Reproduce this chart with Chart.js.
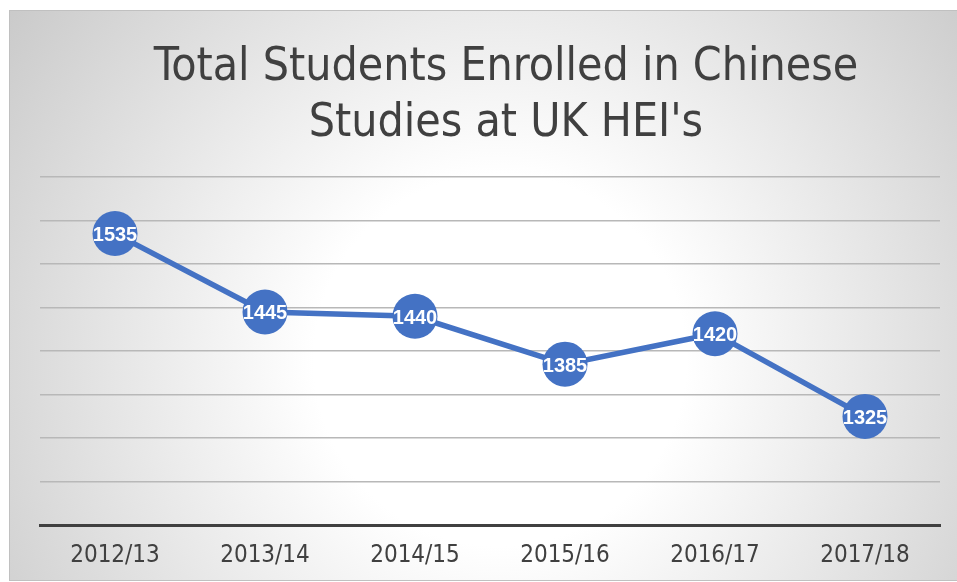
<!DOCTYPE html>
<html>
<head>
<meta charset="utf-8">
<script src="https://cdn.jsdelivr.net/npm/chart.js@4"></script>
<style>
  html, body { margin: 0; padding: 0; background: #fff; }
  #wrap { width: 957px; height: 582px; }
</style>
</head>
<body>
<div id="wrap"><canvas id="enrolChart"></canvas></div>
<script>
var titleLines = ['Total Students Enrolled in Chinese', "Studies at UK HEI's"];
var years = ['2012/13', '2013/14', '2014/15', '2015/16', '2016/17', '2017/18'];
var students = [1535, 1445, 1440, 1385, 1420, 1325];
var yMin = 1200, yMax = 1600, yStep = 50;

var blue = '#4472C4';
var narrow = '"Liberation Sans Narrow", "DejaVu Sans Condensed", sans-serif';

// frame with radial gradient fill
var backgroundPlugin = {
    id: 'background',
    beforeDraw: function (chart) {
        var ctx = chart.ctx;
        ctx.save();
        ctx.fillStyle = '#ffffff';
        ctx.fillRect(0, 0, chart.width, chart.height);
        var g = ctx.createRadialGradient(500, 360, 0, 500, 360, 620);
        g.addColorStop(0, '#ffffff');
        g.addColorStop(0.3, '#ffffff');
        g.addColorStop(1, '#c8c8c8');
        ctx.fillStyle = g;
        ctx.fillRect(10, 11, chart.width - 10, 569);
        ctx.strokeStyle = '#c0c0c0';
        ctx.lineWidth = 1;
        ctx.strokeRect(9.5, 10.5, chart.width, 570);
        ctx.restore();
    }
};

var titlePlugin = {
    id: 'bigTitle',
    afterDraw: function (chart) {
        var ctx = chart.ctx;
        ctx.save();
        ctx.fillStyle = '#404040';
        ctx.font = '46px ' + narrow;
        ctx.textAlign = 'center';
        ctx.textBaseline = 'alphabetic';
        ctx.fillText(titleLines[0], 506, 80);
        ctx.fillText(titleLines[1], 506, 136);
        ctx.restore();
    }
};

var labelPlugin = {
    id: 'pointLabels',
    afterDatasetsDraw: function (chart) {
        var ctx = chart.ctx;
        var meta = chart.getDatasetMeta(0);
        ctx.save();
        ctx.fillStyle = '#ffffff';
        ctx.font = 'bold 20px "Liberation Sans", sans-serif';
        ctx.textAlign = 'center';
        ctx.textBaseline = 'middle';
        meta.data.forEach(function (pt, i) {
            ctx.fillText(String(students[i]), pt.x, pt.y + 2);
        });
        ctx.restore();
    }
};

var ctx = document.getElementById('enrolChart').getContext('2d');
var enrolChart = new Chart(ctx, {
    type: 'line',
    data: {
        labels: years,
        datasets: [{
            label: 'Students',
            data: students,
            borderColor: blue,
            backgroundColor: blue,
            borderWidth: 5.5,
            pointRadius: 22.5,
            pointBackgroundColor: blue,
            pointBorderWidth: 0,
            tension: 0,
            fill: false
        }]
    },
    options: {
        responsive: true,
        maintainAspectRatio: false,
        animation: false,
        layout: { autoPadding: false, padding: { top: 177, left: 40, right: 17, bottom: 4 } },
        plugins: {
            legend: { display: false },
            tooltip: { enabled: false },
            title: { display: false }
        },
        scales: {
            x: {
                offset: true,
                grid: { display: false },
                border: { display: true, color: '#404040', width: 3 },
                ticks: {
                    color: '#404040',
                    padding: 8,
                    font: { family: narrow, size: 24 }
                }
            },
            y: {
                min: yMin,
                max: yMax,
                ticks: { display: false, stepSize: yStep },
                border: { display: false },
                grid: { color: '#b8b8b8', lineWidth: 1.5, drawTicks: false }
            }
        }
    },
    plugins: [backgroundPlugin, titlePlugin, labelPlugin]
});
</script>
</body>
</html>
